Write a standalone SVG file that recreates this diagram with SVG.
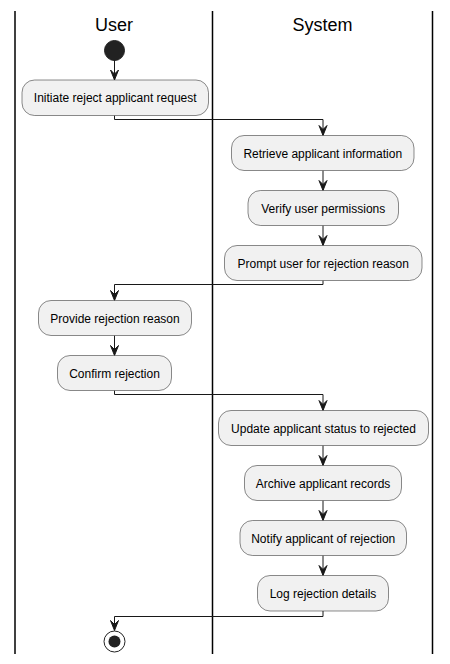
<svg xmlns="http://www.w3.org/2000/svg" width="450" height="664" viewBox="0 0 450 664">
<style>
.lane{stroke:#000;stroke-width:1.5;fill:none}
.title{font-family:"Liberation Sans",Arial,sans-serif;font-size:18px;fill:#000;text-anchor:middle}
.box{fill:#F1F1F1;stroke:#181818;stroke-width:0.5}
.lbl{font-family:"Liberation Sans",Arial,sans-serif;font-size:12px;fill:#000;text-anchor:middle}
.ln{stroke:#181818;stroke-width:1;fill:none}
.ah{fill:#181818;stroke:#181818;stroke-width:1}
</style>
<defs>
<polygon id="arr" class="ah" points="-4,-10 0,0 4,-10 0,-6"/>
</defs>
<rect width="450" height="664" fill="#fff"/>
<g id="lanes">
<line class="lane" x1="15" y1="11" x2="15" y2="654"/>
<line class="lane" x1="212.5" y1="11" x2="212.5" y2="654"/>
<line class="lane" x1="432.5" y1="11" x2="432.5" y2="654"/>
<text class="title" x="114" y="31">User</text>
<text class="title" x="322.5" y="31">System</text>
</g>
<g id="connectors">
<line class="ln" x1="114.5" y1="60" x2="114.5" y2="80"/>
<use href="#arr" x="114.5" y="80"/>
<polyline class="ln" points="114.5,115.5 114.5,119.5 323,119.5 323,135.5"/>
<use href="#arr" x="323" y="135.5"/>
<line class="ln" x1="323" y1="170.5" x2="323" y2="190.5"/>
<use href="#arr" x="323" y="190.5"/>
<line class="ln" x1="323" y1="225.5" x2="323" y2="245.5"/>
<use href="#arr" x="323" y="245.5"/>
<polyline class="ln" points="323,280.5 323,284.5 114.5,284.5 114.5,300.5"/>
<use href="#arr" x="114.5" y="300.5"/>
<line class="ln" x1="114.5" y1="335.5" x2="114.5" y2="355.5"/>
<use href="#arr" x="114.5" y="355.5"/>
<polyline class="ln" points="114.5,390.5 114.5,394.5 323,394.5 323,410.5"/>
<use href="#arr" x="323" y="410.5"/>
<line class="ln" x1="323" y1="445.5" x2="323" y2="465.5"/>
<use href="#arr" x="323" y="465.5"/>
<line class="ln" x1="323" y1="500.5" x2="323" y2="520.5"/>
<use href="#arr" x="323" y="520.5"/>
<line class="ln" x1="323" y1="555.5" x2="323" y2="575.5"/>
<use href="#arr" x="323" y="575.5"/>
<polyline class="ln" points="323,611 323,616.5 114.5,616.5 114.5,630.5"/>
<use href="#arr" x="114.5" y="630.5"/>
</g>
<g id="start"><circle cx="114.5" cy="50.5" r="10" fill="#222" stroke="#222"/></g>
<g id="n1"><rect class="box" x="22" y="80" width="186.5" height="35.5" rx="12.5"/><text class="lbl" x="115.25" y="102">Initiate reject applicant request</text></g>
<g id="n2"><rect class="box" x="231.5" y="135.5" width="182.5" height="35" rx="12.5"/><text class="lbl" x="322.75" y="157.5">Retrieve applicant information</text></g>
<g id="n3"><rect class="box" x="248" y="190.5" width="150.5" height="35" rx="12.5"/><text class="lbl" x="323.25" y="212.5">Verify user permissions</text></g>
<g id="n4"><rect class="box" x="224.5" y="245.5" width="197.5" height="35" rx="12.5"/><text class="lbl" x="323.25" y="267.5">Prompt user for rejection reason</text></g>
<g id="n5"><rect class="box" x="38.5" y="300.5" width="153" height="35" rx="12.5"/><text class="lbl" x="115" y="322.5">Provide rejection reason</text></g>
<g id="n6"><rect class="box" x="57.5" y="355.5" width="114" height="35" rx="12.5"/><text class="lbl" x="114.5" y="377.5">Confirm rejection</text></g>
<g id="n7"><rect class="box" x="218.5" y="410.5" width="210" height="35" rx="12.5"/><text class="lbl" x="323.5" y="432.5">Update applicant status to rejected</text></g>
<g id="n8"><rect class="box" x="244.5" y="465.5" width="157" height="35" rx="12.5"/><text class="lbl" x="323" y="487.5">Archive applicant records</text></g>
<g id="n9"><rect class="box" x="240" y="520.5" width="166.5" height="35" rx="12.5"/><text class="lbl" x="323.25" y="542.5">Notify applicant of rejection</text></g>
<g id="n10"><rect class="box" x="257.5" y="575.5" width="131" height="35.5" rx="12.5"/><text class="lbl" x="323" y="597.5">Log rejection details</text></g>
<g id="end"><circle cx="114.5" cy="641.5" r="10.5" fill="#fff" stroke="#222" stroke-width="1"/><circle cx="114.5" cy="641.5" r="6" fill="#222" stroke="none"/></g>
</svg>
